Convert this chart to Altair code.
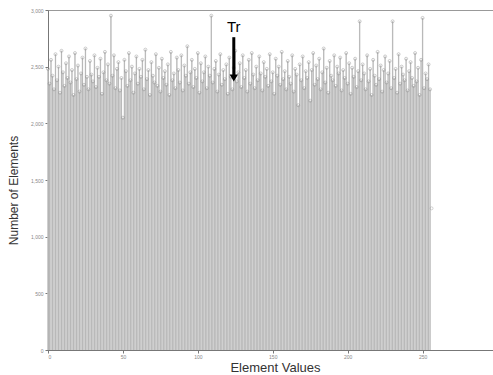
import altair as alt
import pandas as pd

counts = [
    2480, 2350, 2560, 2420, 2300, 2610, 2380, 2500, 2270, 2640, 2450, 2330, 2530, 2400, 2590, 2360,
    2470, 2250, 2620, 2390, 2510, 2280, 2440, 2580, 2340, 2660, 2410, 2300, 2550, 2430, 2370, 2600,
    2320, 2490, 2410, 2570, 2260, 2450, 2630, 2380, 2520, 2350, 2950, 2420, 2600, 2310, 2480, 2540,
    2290, 2400, 2050, 2560, 2460, 2330, 2620, 2380, 2500, 2270, 2440, 2590, 2350, 2480, 2410, 2560,
    2300, 2650, 2390, 2470, 2250, 2540, 2420, 2360, 2610, 2330, 2490, 2280, 2570, 2400, 2460, 2340,
    2520, 2250, 2630, 2380, 2440, 2310, 2580, 2470, 2360, 2600, 2290, 2510, 2420, 2680, 2350, 2450,
    2560, 2320, 2480, 2400, 2620, 2270, 2530, 2370, 2450, 2590, 2310, 2500, 2420, 2950, 2360, 2480,
    2550, 2280, 2430, 2610, 2340, 2470, 2390, 2520, 2260, 2580, 2410, 2300, 2490, 2640, 2370, 2450,
    2530, 2320, 2600, 2400, 2470, 2280, 2560, 2350, 2620, 2430, 2310, 2500, 2380, 2590, 2440, 2290,
    2540, 2410, 2480, 2330, 2610, 2370, 2450, 2260, 2570, 2420, 2500, 2340, 2630, 2390, 2460, 2300,
    2550, 2410, 2350, 2600, 2280, 2480, 2430, 2160, 2520, 2380, 2590, 2310, 2460, 2400, 2540, 2200,
    2470, 2620, 2340, 2510, 2390, 2570, 2300, 2450, 2660, 2360, 2490, 2270, 2550, 2420, 2380, 2600,
    2330, 2500, 2440, 2580, 2290, 2470, 2400, 2620, 2350, 2530, 2260, 2490, 2410, 2570, 2320, 2460,
    2900, 2380, 2520, 2440, 2300, 2600, 2370, 2480, 2250, 2560, 2420, 2340, 2630, 2390, 2510, 2280,
    2470, 2590, 2360, 2440, 2550, 2310, 2900, 2400, 2480, 2270, 2610, 2350, 2500, 2430, 2380, 2570,
    2290, 2460, 2540, 2400, 2330, 2620, 2370, 2490, 2250, 2560, 2930, 2310, 2440, 2390, 2520, 2300,
]
element_values = list(range(len(counts)))
stray_x = [256]
stray_y = [1250]

arrow_x = [124]
arrow_top = [2760]
arrow_tip = [2400]
label_text = ["Tr"]
label_y = [2850]

df = pd.DataFrame({"v": element_values, "n": counts})
df_stray = pd.DataFrame({"v": stray_x, "n": stray_y})
df_arrow = pd.DataFrame({"v": arrow_x, "top": arrow_top, "tip": arrow_tip,
                         "label": label_text, "ly": label_y})

xs = alt.Scale(domain=[0, 297], nice=False, zero=False, padding=0)
ys = alt.Scale(domain=[0, 3000], nice=False, padding=0)

xax = alt.Axis(values=[0, 50, 100, 150, 200, 250], labelFontSize=5, labelColor="#888",
               tickColor="#777", tickSize=3, domainColor="#777", grid=False, labelPadding=1,
               title="Element Values", titleFontSize=13, titleFontWeight="normal",
               titleColor="#333", titlePadding=2, titleX=227, titleFont="Liberation Sans")
yax = alt.Axis(values=[0, 500, 1000, 1500, 2000, 2500, 3000], labelFontSize=5, labelColor="#888",
               tickColor="#777", tickSize=3, domainColor="#777", grid=False,
               title="Number of Elements", titleFontSize=12, titleFontWeight="normal",
               titleColor="#333", titlePadding=10, titleY=180, titleFont="Liberation Sans")

base = alt.Chart(df)
bars = base.mark_bar(width=1.4, color="#d4d4d4").encode(
    x=alt.X("v:Q", scale=xs, axis=xax),
    y=alt.Y("n:Q", scale=ys, axis=yax),
)
stems = base.mark_rule(color="#9a9a9a", strokeWidth=0.5).encode(
    x=alt.X("v:Q", scale=xs), y=alt.Y("n:Q", scale=ys), y2=alt.datum(0)
)
dots = base.mark_point(shape="circle", size=9, color="#8a8a8a", strokeWidth=0.6,
                       filled=False).encode(
    x=alt.X("v:Q", scale=xs), y=alt.Y("n:Q", scale=ys)
)
stray = alt.Chart(df_stray).mark_point(shape="circle", size=9, color="#999",
                                      strokeWidth=0.6).encode(
    x=alt.X("v:Q", scale=xs), y=alt.Y("n:Q", scale=ys)
)
ab = alt.Chart(df_arrow)
shaft = ab.mark_rule(color="black", strokeWidth=3).encode(
    x=alt.X("v:Q", scale=xs), y=alt.Y("top:Q", scale=ys), y2="tip:Q"
)
head = ab.mark_point(shape="triangle-down", filled=True, color="black", size=70,
                     opacity=1).encode(
    x=alt.X("v:Q", scale=xs), y=alt.Y("tip:Q", scale=ys)
)
label = ab.mark_text(fontSize=15, font="Liberation Sans", color="black").encode(
    x=alt.X("v:Q", scale=xs), y=alt.Y("ly:Q", scale=ys), text="label:N"
)

chart = alt.layer(bars, stems, dots, stray, shaft, head, label).properties(
    width=445, height=340,
    autosize=alt.AutoSizeParams(type="none"),
    padding={"left": 48, "top": 10, "right": 0, "bottom": 24},
).configure_view(stroke="#999", strokeWidth=1)

chart.save("out.html", embed_options={"renderer": "svg", "actions": False})
